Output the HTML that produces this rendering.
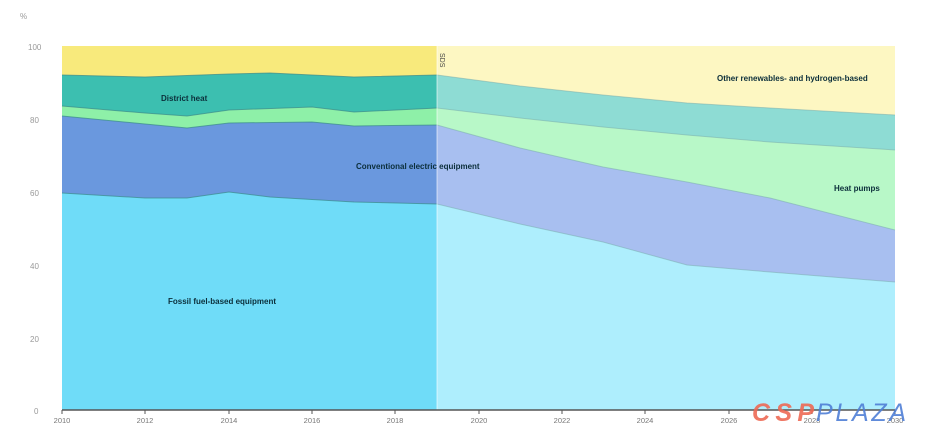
<!DOCTYPE html>
<html><head><meta charset="utf-8"><style>
body{margin:0;background:#fff;width:926px;height:443px;overflow:hidden}
text{font-family:"Liberation Sans",sans-serif}
</style></head><body>
<svg width="926" height="443" viewBox="0 0 926 443">
<g font-size="8" fill="#999">
<text x="20" y="19">%</text>
<text x="28" y="50">100</text><text x="30" y="123">80</text><text x="30" y="196">60</text>
<text x="30" y="269">40</text><text x="30" y="342">20</text><text x="34" y="414">0</text>
</g>
<g stroke="#eee" stroke-width="1">
<line x1="62" y1="119" x2="895" y2="119"/><line x1="62" y1="192" x2="895" y2="192"/>
<line x1="62" y1="265" x2="895" y2="265"/><line x1="62" y1="338" x2="895" y2="338"/>
</g>
<rect x="62" y="46" width="375" height="364" fill="#f8ea7c"/>
<polygon points="62,75 145,77 229,74 270,73 354,77 437,75 437,410 62,410" fill="#3cbfb0"/>
<polygon points="62,106 145,113 187,116 229,110 312,107 354,112 437,108 437,410 62,410" fill="#8ef0a8"/>
<polygon points="62,116 145,124 187,128 229,123 312,122 354,126 437,125 437,410 62,410" fill="#6a98de"/>
<polygon points="62,193 145,198 187,198 229,192 270,197 354,202 437,204 437,410 62,410" fill="#6fdcf8"/>
<g fill="none" stroke="#3a8a8a" stroke-width="1" opacity="0.7">
<polyline points="62,75 145,77 229,74 270,73 354,77 437,75"/>
<polyline points="62,106 145,113 187,116 229,110 312,107 354,112 437,108"/>
<polyline points="62,116 145,124 187,128 229,123 312,122 354,126 437,125"/>
<polyline points="62,193 145,198 187,198 229,192 270,197 354,202 437,204"/>
</g>
<rect x="437" y="46" width="458" height="364" fill="#fdf7c2"/>
<polygon points="437,75 520,86 603,95 687,103 770,108 895,115 895,410 437,410" fill="#8edcd4"/>
<polygon points="437,108 520,118 603,127 687,135 770,142 895,150 895,410 437,410" fill="#b8f8c8"/>
<polygon points="437,125 520,148 603,167 687,182 770,198 895,230 895,410 437,410" fill="#a8bff0"/>
<polygon points="437,204 520,224 603,242 687,265 770,272 895,282 895,410 437,410" fill="#aeeefd"/>
<g fill="none" stroke="#7aa" stroke-width="1" opacity="0.5">
<polyline points="437,75 520,86 603,95 687,103 770,108 895,115"/>
<polyline points="437,108 520,118 603,127 687,135 770,142 895,150"/>
<polyline points="437,125 520,148 603,167 687,182 770,198 895,230"/>
<polyline points="437,204 520,224 603,242 687,265 770,272 895,282"/>
</g>
<line x1="437" y1="46" x2="437" y2="410" stroke="#fff" stroke-width="1" opacity="0.6"/>
<text x="440" y="53" font-size="7" fill="#444" transform="rotate(90 440 53)">SDS</text>
<g font-size="8" font-weight="bold" fill="#0b2e3a">
<text x="161" y="101">District heat</text>
<text x="356" y="169">Conventional electric equipment</text>
<text x="168" y="304">Fossil fuel-based equipment</text>
<text x="717" y="81">Other renewables- and hydrogen-based</text>
<text x="834" y="191">Heat pumps</text>
</g>
<line x1="62" y1="410" x2="895" y2="410" stroke="#555" stroke-width="1.5"/>
<g stroke="#555" stroke-width="1">
<line x1="62" y1="410" x2="62" y2="414"/><line x1="145" y1="410" x2="145" y2="414"/>
<line x1="229" y1="410" x2="229" y2="414"/><line x1="312" y1="410" x2="312" y2="414"/>
<line x1="395" y1="410" x2="395" y2="414"/><line x1="479" y1="410" x2="479" y2="414"/>
<line x1="562" y1="410" x2="562" y2="414"/><line x1="645" y1="410" x2="645" y2="414"/>
<line x1="729" y1="410" x2="729" y2="414"/><line x1="812" y1="410" x2="812" y2="414"/>
<line x1="895" y1="410" x2="895" y2="414"/>
</g>
<g font-size="7.5" fill="#777" text-anchor="middle">
<text x="62" y="423">2010</text><text x="145" y="423">2012</text><text x="229" y="423">2014</text>
<text x="312" y="423">2016</text><text x="395" y="423">2018</text><text x="479" y="423">2020</text>
<text x="562" y="423">2022</text><text x="645" y="423">2024</text><text x="729" y="423">2026</text>
<text x="812" y="423">2028</text><text x="895" y="423">2030</text>
</g>
<text x="752" y="421" font-size="25" font-weight="bold" font-style="italic" fill="#ee6a55" opacity="0.9" textLength="62">CSP</text>
<text x="816" y="421" font-size="25" font-style="italic" fill="#4f7fd6" opacity="0.9" textLength="90">PLAZA</text>
</svg>
</body></html>
